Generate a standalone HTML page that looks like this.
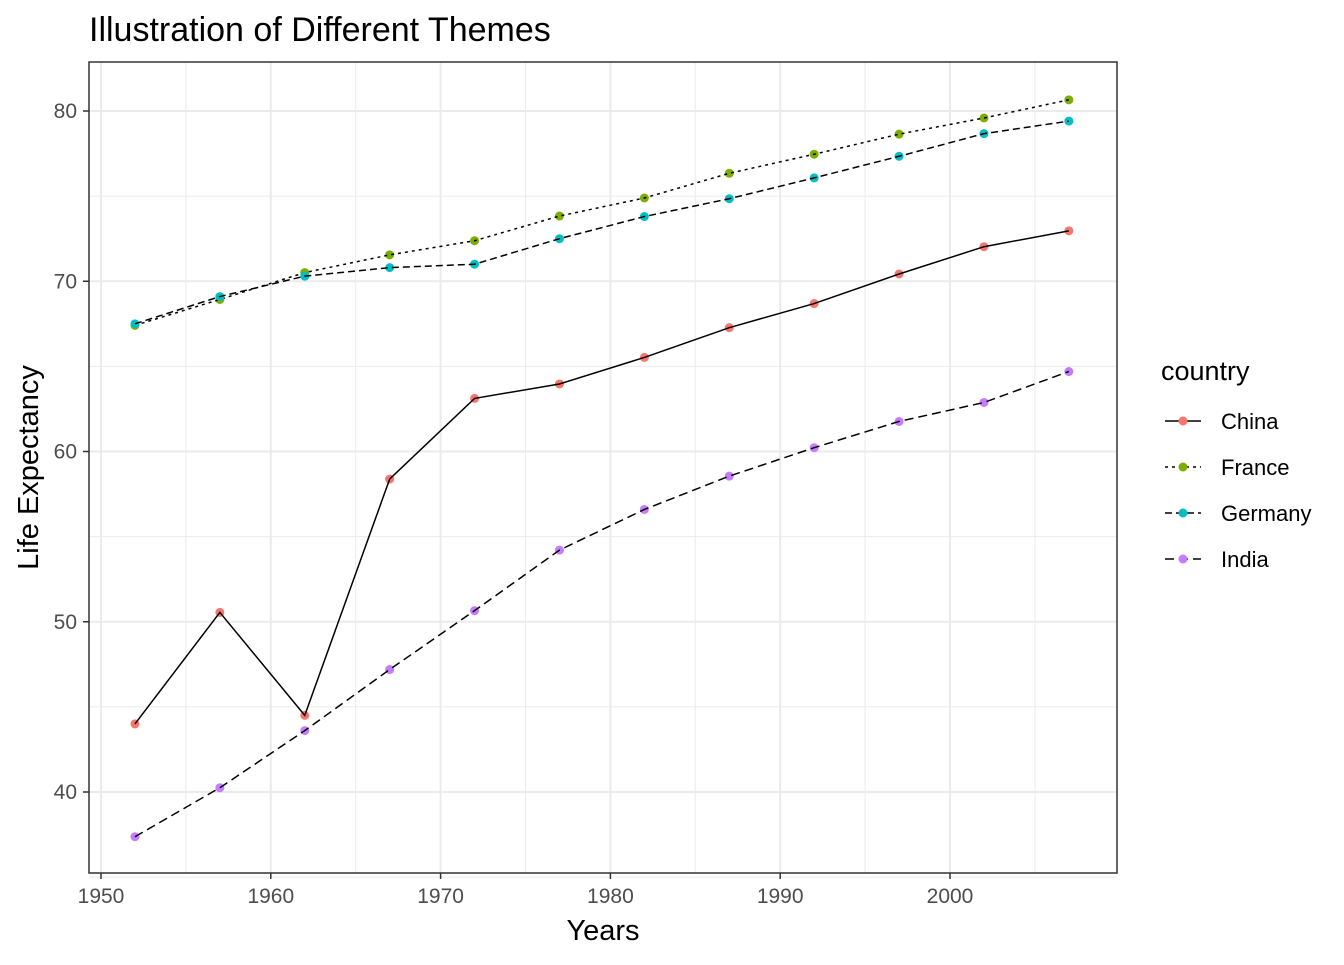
<!DOCTYPE html>
<html><head><meta charset="utf-8"><style>
body{margin:0;background:#fff;font-family:"Liberation Sans",Arial,sans-serif;}
svg text{font-family:"Liberation Sans",Arial,sans-serif;}
</style></head><body>
<svg id="chart" width="1344" height="960" xmlns="http://www.w3.org/2000/svg">
<text x="89" y="41" font-size="34" fill="#000">Illustration of Different Themes</text>
<g id="grid"></g><g id="series"></g><g id="axes"></g><g id="legend"></g>
</svg>
<script>
const years=[1952,1957,1962,1967,1972,1977,1982,1987,1992,1997,2002,2007];
const countries=["China","France","Germany","India"];
const china=[44.0,50.549,44.501,58.381,63.119,63.967,65.525,67.274,68.69,70.426,72.028,72.961];
const france=[67.41,68.93,70.51,71.55,72.38,73.83,74.89,76.34,77.46,78.64,79.59,80.657];
const germany=[67.5,69.1,70.3,70.8,71.0,72.5,73.8,74.847,76.07,77.34,78.67,79.406];
const india=[37.373,40.249,43.605,47.193,50.651,54.208,56.596,58.553,60.223,61.765,62.879,64.698];
const xTicks=[1950,1960,1970,1980,1990,2000];
const yTicks=[40,50,60,70,80];
const colors=["#F8766D","#7CAE00","#00BFC4","#C77CFF"];
const dashes=["","3,4","7,4","9,5"];
const series=[china,france,germany,india];
const NS="http://www.w3.org/2000/svg";
const PL=89,PR=1117,PT=62,PB=873;
function sx(v){return 101+(v-1950)*(950-101)/50;}
function sy(v){return 792-(v-40)*(792-111)/40;}
function mk(tag,attrs,parent){const e=document.createElementNS(NS,tag);for(const k in attrs)e.setAttribute(k,attrs[k]);parent.appendChild(e);return e;}
const grid=document.getElementById('grid'),axes=document.getElementById('axes'),sg=document.getElementById('series'),lg=document.getElementById('legend');
mk('rect',{x:PL,y:PT,width:PR-PL,height:PB-PT,fill:'#fff'},grid);
for(let v=1955;v<=2005;v+=10){const l=mk('line',{x1:sx(v),x2:sx(v),y1:PT,y2:PB,stroke:'#ebebeb','stroke-width':1},grid);

}
for(let v=35;v<=75;v+=10){const l=mk('line',{x1:PL,x2:PR,y1:sy(v),y2:sy(v),stroke:'#ebebeb','stroke-width':1},grid);

}
xTicks.forEach(v=>{const l=mk('line',{x1:sx(v),x2:sx(v),y1:PT,y2:PB,stroke:'#ebebeb','stroke-width':2},grid);


mk('line',{x1:sx(v),x2:sx(v),y1:PB,y2:PB+6,stroke:'#333','stroke-width':1.5},axes);
const t=mk('text',{x:sx(v),y:PB+30,'font-size':21,fill:'#4d4d4d','text-anchor':'middle'},axes);t.textContent=v;

});
yTicks.forEach(v=>{const l=mk('line',{x1:PL,x2:PR,y1:sy(v),y2:sy(v),stroke:'#ebebeb','stroke-width':2},grid);


mk('line',{x1:PL-6,x2:PL,y1:sy(v),y2:sy(v),stroke:'#333','stroke-width':1.5},axes);
const t=mk('text',{x:PL-12,y:sy(v)+7,'font-size':21,fill:'#4d4d4d','text-anchor':'end'},axes);t.textContent=v;

});
const border=mk('rect',{x:PL,y:PT,width:PR-PL,height:PB-PT,fill:'none',stroke:'#333','stroke-width':1.5},axes);


const xt=mk('text',{x:(PL+PR)/2,y:940,'font-size':29,'text-anchor':'middle',fill:'#000'},axes);xt.textContent='Years';


const yt=mk('text',{x:38,y:(PT+PB)/2,'font-size':29,'text-anchor':'middle',fill:'#000',transform:`rotate(-90 38 ${(PT+PB)/2})`},axes);yt.textContent='Life Expectancy';


series.forEach((vals,i)=>{
 const g=mk('g',{},sg);
 
 
 vals.forEach((v,j)=>{const c=mk('circle',{cx:sx(years[j]),cy:sy(v),r:4.5,fill:colors[i]},g);
 
 });
 const p=mk('polyline',{points:vals.map((v,j)=>sx(years[j])+','+sy(v)).join(' '),fill:'none',stroke:'#000','stroke-width':1.5,'stroke-dasharray':dashes[i]},g);
 
 
});
const lt=mk('text',{x:1161,y:380,'font-size':27,fill:'#000'},lg);lt.textContent='country';


countries.forEach((c,i)=>{const y=421+i*46;
 const g=mk('g',{},lg);
 
 
 mk('line',{x1:1165,x2:1201,y1:y,y2:y,stroke:'#000','stroke-width':1.5,'stroke-dasharray':dashes[i]},g);
 mk('circle',{cx:1183,cy:y,r:4.5,fill:colors[i]},g);
 const t=mk('text',{x:1221,y:y+8,'font-size':22,fill:'#000'},g);t.textContent=c;});
</script>
</body></html>
